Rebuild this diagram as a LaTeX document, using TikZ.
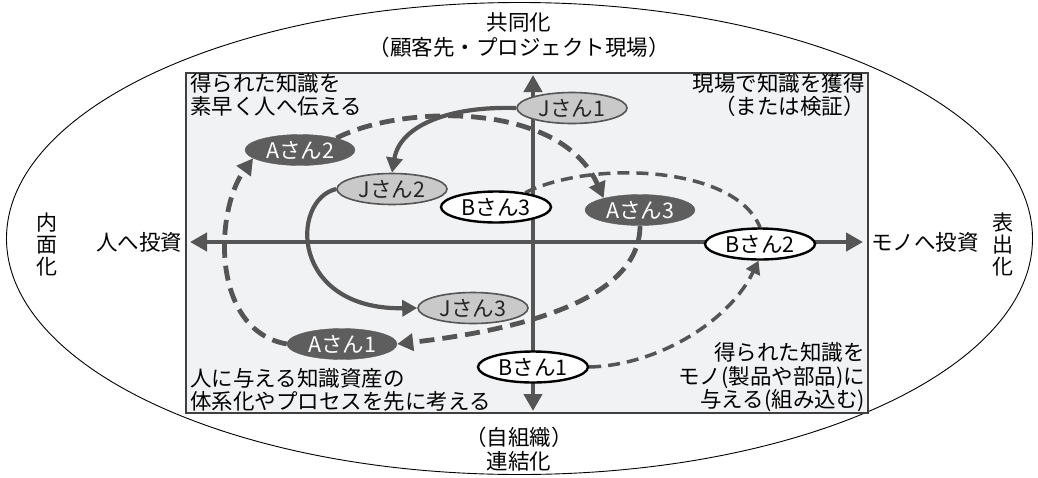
\documentclass[tikz,border=0pt]{standalone}
\usepackage{fontspec}
\setmainfont{Noto Sans CJK JP}
\usetikzlibrary{arrows.meta,shapes.geometric}
\definecolor{axisc}{HTML}{555555}
\definecolor{rectc}{HTML}{F1F2F4}
\definecolor{afill}{HTML}{5E5E5E}
\definecolor{jfill}{HTML}{C9C9C9}
\pgfdeclarelayer{back}
\pgfdeclarelayer{mid}
\pgfsetlayers{back,mid,main}
\begin{document}
\begin{tikzpicture}[x=1pt,y=-1pt,
  every node/.style={font=\fontsize{21.5}{23.5}\selectfont, inner sep=1pt},
  pnode/.style={ellipse, minimum width=110pt, minimum height=31pt, inner sep=0pt, font=\fontsize{21.5}{23}\selectfont},
  jnode/.style={pnode, fill=jfill, draw=axisc, line width=1.6pt, text=black!85},
  anode/.style={pnode, fill=afill, draw=afill, text=white},
  bnode/.style={pnode, fill=white, draw=black, line width=2.4pt},
  axisline/.style={draw=axisc, line width=4.5pt, {Triangle[length=17pt,width=18pt]}-{Triangle[length=17pt,width=18pt]}},
  jarrow/.style={draw=axisc, line width=4.2pt, -{Triangle[length=15pt,width=16pt]}},
  aarrow/.style={draw=axisc, line width=4.8pt, dash pattern=on 15pt off 8pt, -{Triangle[length=16pt,width=17pt]}},
  bline/.style={draw=axisc, line width=3.5pt, dash pattern=on 12pt off 7pt},
  barrow/.style={bline, -{Triangle[length=13pt,width=15pt]}},
  lbl/.style={align=left, anchor=north west},
  rbl/.style={align=right, anchor=north east}
]
\useasboundingbox (0,0) rectangle (1038,477);
\begin{pgfonlayer}{back}
\draw[line width=0.9pt] (519.5,238.5) ellipse [x radius=513pt, y radius=236pt];
\fill[rectc] (186,73) rectangle (868,413);
\draw[line width=1.3pt, draw=black!75] (186,73) rectangle (868,413);
\end{pgfonlayer}

% axis ends
\coordinate (axL) at (190,242);
\coordinate (axR) at (863,242);
\coordinate (axT) at (533,75);
\coordinate (axB) at (533,411);

% people nodes
\node[jnode] (j1) at (572,108) {Jさん1};
\node[jnode] (j2) at (392,189) {Jさん2};
\node[jnode] (j3) at (473,308) {Jさん3};
\node[anode] (a1) at (342,344) {Aさん1};
\node[anode] (a2) at (300,150) {Aさん2};
\node[anode] (a3) at (640,210) {Aさん3};
\node[bnode] (b1) at (533,367) {Bさん1};
\node[bnode] (b2) at (760,244) {Bさん2};
\node[bnode] (b3) at (496,207) {Bさん3};

\begin{pgfonlayer}{mid}
\draw[axisline] (axL) -- (axR);
\draw[axisline] (axT) -- (axB);
\draw[jarrow] (j1.west) .. controls (450,106) and (400,125) .. (j2.north);
\draw[jarrow] (j2.west) .. controls (290,200) and (290,310) .. (j3.west);
\draw[aarrow] (a2.18) .. controls (400,105) and (560,100) .. (a3.162);
\draw[aarrow] (a3.south) .. controls (640,300) and (520,330) .. (a1.east);
\draw[aarrow] (a1.west) .. controls (210,330) and (215,210) .. (a2.190);
\draw[bline] (b3.26) .. controls (590,160) and (735,165) .. (b2.north);
\draw[barrow] (b1.east) .. controls (660,365) and (730,320) .. (b2.265);
\end{pgfonlayer}

% corner texts
\node[lbl] (tl) at (189,72) {得られた知識を\\素早く人へ伝える};
\node[rbl] (tr) at (866,72) {現場で知識を獲得\\（または検証）};
\node[lbl, anchor=south west] (bl) at (189,413) {人に与える知識資産の\\体系化やプロセスを先に考える};
\node[rbl, anchor=south east] (br) at (866,413) {得られた知識を\\モノ(製品や部品)に\\与える(組み込む)};

% outer texts
\node (top1) at (519,22) {共同化};
\node (top2) at (519,47) {（顧客先・プロジェクト現場）};
\node (bot1) at (519,437) {（自組織）};
\node (bot2) at (519,461) {連結化};
\node (lft) at (139,242) {人へ投資};
\node (rgt) at (925,242) {モノへ投資};
\node[align=center, font=\fontsize{21}{22}\selectfont] (lv) at (47,244) {内\\面\\化};
\node[align=center, font=\fontsize{21}{22}\selectfont] (rv) at (1003,244) {表\\出\\化};
\end{tikzpicture}
\end{document}
